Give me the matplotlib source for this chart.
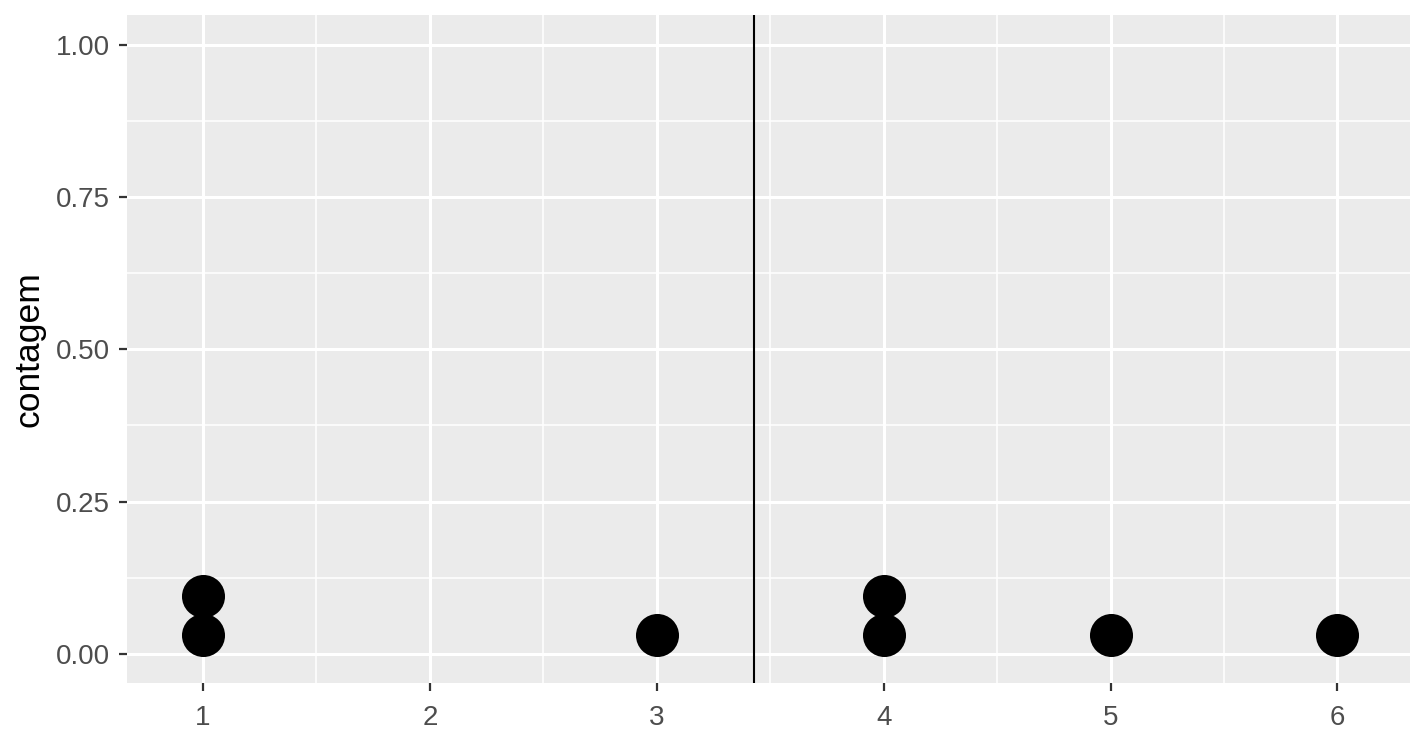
import numpy as np
import matplotlib
matplotlib.use("Agg")
import matplotlib.pyplot as plt
from collections import Counter

# ---------- DATA ----------
valores = [1, 1, 3, 4, 4, 5, 6]
x_ticks = [1, 2, 3, 4, 5, 6]
y_ticks = [0.00, 0.25, 0.50, 0.75, 1.00]
y_tick_labels = ["0.00", "0.25", "0.50", "0.75", "1.00"]
y_label = "contagem"

# ---------- STYLE ----------
BG = "#EBEBEB"
TXT = "#4D4D4D"
DOT_STEP = 0.063  # vertical stacking step (data units)

plt.rcParams["font.family"] = ["Liberation Sans", "DejaVu Sans"]

fig = plt.figure(figsize=(14.12, 7.36), dpi=100)
ax = fig.add_axes([127 / 1412, (736 - 683) / 736, (1410 - 127) / 1412, (683 - 15) / 736])
ax.set_facecolor(BG)

# stack dots like geom_dotplot
contagem = Counter(valores)
xs, ys = [], []
for v in sorted(contagem):
    for k in range(contagem[v]):
        xs.append(v)
        ys.append((k + 0.5) * DOT_STEP)

ax.scatter(xs, ys, s=960, color="black", zorder=4, linewidths=0)
ax.axvline(np.mean(valores), color="black", linewidth=1.5, zorder=5)

ax.set_xlim(0.665, 6.32)
ax.set_ylim(-0.048, 1.049)

ax.set_xticks(x_ticks)
ax.set_xticklabels([str(t) for t in x_ticks])
ax.set_yticks(y_ticks)
ax.set_yticklabels(y_tick_labels)
ax.set_xticks([1.5, 2.5, 3.5, 4.5, 5.5], minor=True)
ax.set_yticks([0.125, 0.375, 0.625, 0.875], minor=True)

ax.grid(which="major", color="white", linewidth=2.2, zorder=0)
ax.grid(which="minor", color="white", linewidth=1.1, zorder=0)
ax.set_axisbelow(True)

for sp in ax.spines.values():
    sp.set_visible(False)

ax.tick_params(which="major", length=6, width=1.6, color="#333333",
               labelsize=20, labelcolor=TXT, pad=6)
ax.tick_params(axis="x", which="major", pad=10)
ax.tick_params(which="minor", length=0)
ax.set_ylabel(y_label, fontsize=25.5, color="black", labelpad=8)

fig.savefig("out.png", dpi=100)
